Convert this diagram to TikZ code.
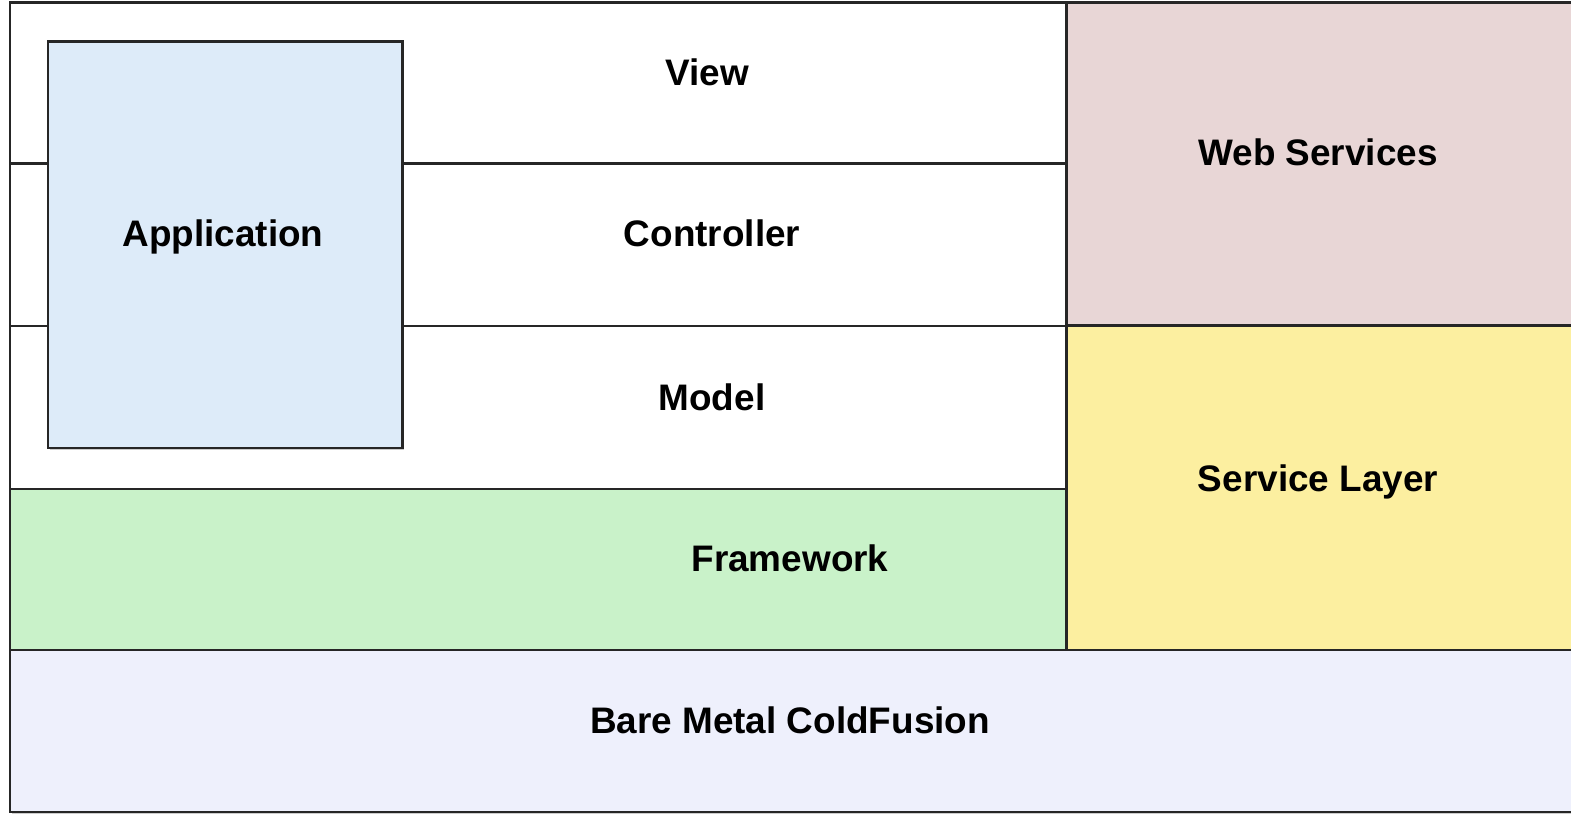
\documentclass[tikz,border=0pt]{standalone}
\usepackage{fontspec}
\setmainfont{Liberation Sans}
\usetikzlibrary{shadows}
\definecolor{webfarbe}{HTML}{E8D6D6}
\definecolor{servicefarbe}{HTML}{FCEFA0}
\definecolor{frameworkfarbe}{HTML}{C9F2C9}
\definecolor{metallfarbe}{HTML}{EEF0FC}
\definecolor{appfarbe}{HTML}{DDEBF9}
\tikzset{schicht/.style={draw=black!85,line width=0.85pt,rectangle,inner sep=0pt,outer sep=0pt,anchor=north west,
    drop shadow={shadow xshift=0.5pt,shadow yshift=-0.5pt,fill=black!40,opacity=0.5}}}
\tikzset{titel/.style={font=\bfseries\fontsize{10.5}{12}\selectfont,inner sep=1pt}}

\begin{document}
\begin{tikzpicture}
    \useasboundingbox (0,0) rectangle (15.71,8.17);
    \clip (0,0) rectangle (15.71,8.17);
    \path node [schicht, fill=white, minimum width=10.56cm, minimum height=1.61cm] (view) at (0.10,8.14) {}
          node [schicht, fill=white, minimum width=10.56cm, minimum height=1.62cm] (controller) at (0.10,6.53) {}
          node [schicht, fill=white, minimum width=10.56cm, minimum height=1.63cm] (model) at (0.10,4.91) {}
          node [schicht, fill=frameworkfarbe, minimum width=10.56cm, minimum height=1.61cm] (framework) at (0.10,3.28) {}
          node [schicht, fill=webfarbe, minimum width=5.30cm, minimum height=3.23cm] (web) at (10.66,8.14) {}
          node [schicht, fill=servicefarbe, minimum width=5.30cm, minimum height=3.24cm] (service) at (10.66,4.91) {}
          node [schicht, fill=metallfarbe, minimum width=15.90cm, minimum height=1.62cm] (metall) at (0.10,1.67) {}
          node [schicht, fill=appfarbe, minimum width=3.54cm, minimum height=4.06cm] (app) at (0.48,7.75) {};

    % Beschriftungen
    \path node [titel] (viewtext) at (7.07,7.45) {View}
          node [titel] (controllertext) at (7.12,5.84) {Controller}
          node [titel] (modeltext) at (7.12,4.20) {Model}
          node [titel] (frameworktext) at (7.90,2.59) {Framework}
          node [titel] (metalltext) at (7.90,0.97) {Bare Metal ColdFusion}
          node [titel] (webtext) at (13.18,6.65) {Web Services}
          node [titel] (servicetext) at (13.18,3.35) {Service Layer}
          node [titel] (apptext) at (2.23,5.80) {Application};
\end{tikzpicture}
\end{document}
